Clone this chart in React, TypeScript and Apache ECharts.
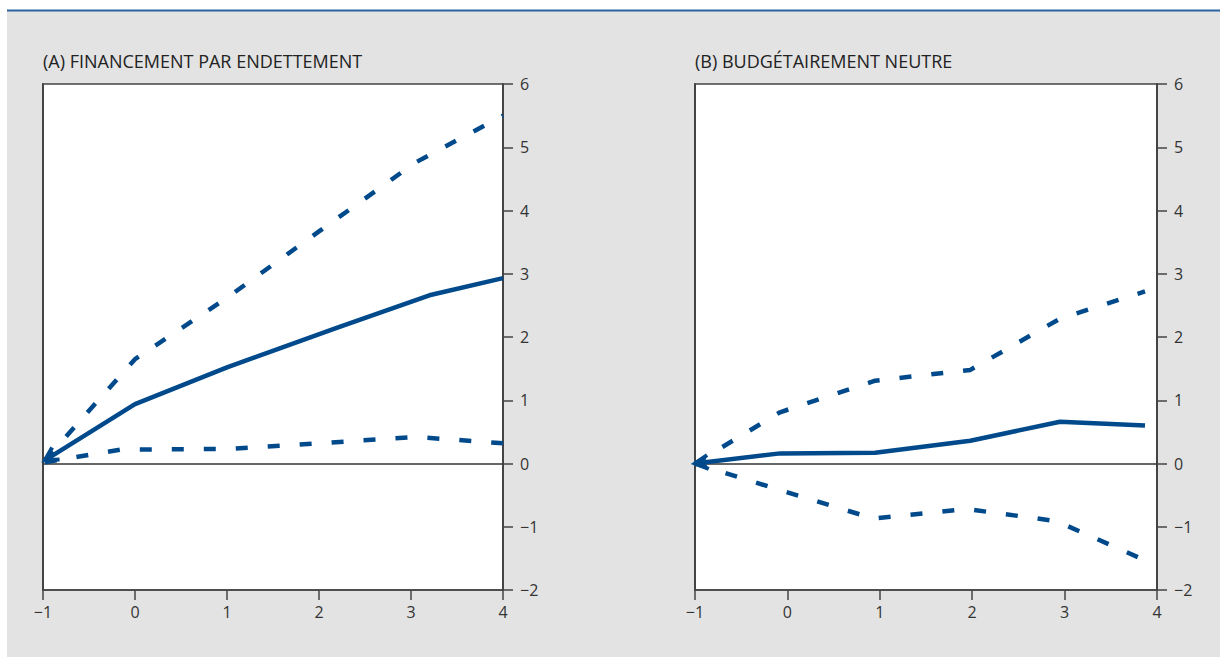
import React, { useEffect, useRef } from "react";
import * as echarts from "echarts";

const titleA = "(A) FINANCEMENT PAR ENDETTEMENT";
const titleB = "(B) BUDGÉTAIREMENT NEUTRE";

const xTicks = [-1, 0, 1, 2, 3, 4];
const yTicks = [-2, -1, 0, 1, 2, 3, 4, 5, 6];

// Panel A: debt-financed
const aCentral = [[-0.98, 0.05], [0.0, 0.94], [1, 1.52], [2.2, 2.15], [3.2, 2.66], [4, 2.93]];
const aUpper = [[-0.98, 0.05], [0.0, 1.65], [1, 2.62], [2, 3.67], [3.05, 4.76], [4, 5.5]];
const aLower = [[-0.98, 0.02], [-0.15, 0.22], [1, 0.23], [2, 0.32], [3.05, 0.42], [4, 0.32]];

// Panel B: budget-neutral
const bCentral = [[-1, 0], [-0.08, 0.16], [0.95, 0.17], [1.98, 0.36], [2.95, 0.66], [3.87, 0.6]];
const bUpper = [[-1, 0], [-0.08, 0.81], [0.95, 1.31], [1.98, 1.48], [2.95, 2.29], [3.87, 2.72]];
const bLower = [[-1, 0], [-0.08, -0.42], [0.93, -0.87], [1.94, -0.72], [2.91, -0.91], [3.87, -1.53]];

const BLUE = "#004a8c";
const AXIS = "#444444";
const FONT = "'Open Sans', 'Noto Sans', sans-serif";

const fmt = (v: number) => (v < 0 ? "\u2212" + Math.abs(v) : String(v));

export default function App() {
  const ref = useRef<HTMLDivElement>(null);
  useEffect(() => {
    if (!ref.current) return;
    const chart = echarts.init(ref.current, undefined, { renderer: "svg" });

    const grids = [
      { left: 43, top: 84, width: 460, height: 506 },
      { left: 695, top: 84, width: 462, height: 506 },
    ];

    const xAxis = grids.map((_, i) => ({
      type: "value",
      gridIndex: i,
      min: xTicks[0],
      max: xTicks[xTicks.length - 1],
      interval: 1,
      position: "bottom",
      axisLine: { show: true, onZero: false, lineStyle: { color: AXIS, width: 1.5 } },
      axisTick: { show: true, length: 10, lineStyle: { color: AXIS, width: 1.5 } },
      axisLabel: { margin: 14, color: "#333", fontSize: 16, fontFamily: FONT, formatter: fmt },
      splitLine: { show: false },
    }));

    const yAxis: any[] = [];
    grids.forEach((_, i) => {
      yAxis.push({
        type: "value",
        gridIndex: i,
        min: yTicks[0],
        max: yTicks[yTicks.length - 1],
        interval: 1,
        position: "right",
        axisLine: { show: true, onZero: false, lineStyle: { color: AXIS, width: 2 } },
        axisTick: { show: true, length: 10, lineStyle: { color: AXIS, width: 1.5 } },
        axisLabel: { margin: 17, color: "#333", fontSize: 16, fontFamily: FONT, formatter: fmt },
        splitLine: { show: false },
      });
    });
    grids.forEach((_, i) => {
      yAxis.push({
        type: "value",
        gridIndex: i,
        min: yTicks[0],
        max: yTicks[yTicks.length - 1],
        interval: 1,
        position: "left",
        axisLine: { show: true, onZero: false, lineStyle: { color: AXIS, width: 2 } },
        axisTick: { show: false },
        axisLabel: { show: false },
        splitLine: { show: false },
      });
    });

    const mkLine = (data: number[][], gi: number, dashed: boolean, zero: boolean) => ({
      type: "line",
      xAxisIndex: gi,
      yAxisIndex: gi,
      data,
      symbol: "none",
      z: 3,
      lineStyle: {
        color: BLUE,
        width: 4.5,
        type: dashed ? [12, 20] : "solid",
        cap: "butt",
      },
      markLine: zero
        ? {
            silent: true,
            symbol: "none",
            label: { show: false },
            lineStyle: { color: "#333", width: 1.5, type: "solid" },
            data: [{ yAxis: 0 }],
            z: 2,
          }
        : undefined,
    });

    const series = [
      mkLine(aCentral, 0, false, true),
      mkLine(aUpper, 0, true, false),
      mkLine(aLower, 0, true, false),
      mkLine(bCentral, 1, false, true),
      mkLine(bUpper, 1, true, false),
      mkLine(bLower, 1, true, false),
    ];

    const baseGraphic: any[] = [
      { type: "rect", z: -10, silent: true, shape: { x: 7, y: 11, width: 1213, height: 646 }, style: { fill: "#e3e3e3" } },
      { type: "rect", z: -9, silent: true, shape: { x: 7, y: 9.5, width: 1213, height: 2 }, style: { fill: "#2b64a0" } },
      { type: "text", x: 43, y: 61, style: { text: titleA, fill: "#222", fontSize: 18, fontFamily: FONT, textVerticalAlign: "middle" } },
      { type: "text", x: 695, y: 61, style: { text: titleB, fill: "#222", fontSize: 18, fontFamily: FONT, textVerticalAlign: "middle" } },
    ];

    chart.setOption({
      animation: false,
      grid: grids.map((g) => ({
        ...g,
        show: true,
        backgroundColor: "#ffffff",
        borderColor: AXIS,
        borderWidth: 1.5,
      })),
      xAxis,
      yAxis,
      series,
      graphic: baseGraphic,
    });

    // open arrowheads at the start of the central lines
    const arrows: any[] = [];
    [[aCentral, 0], [bCentral, 1]].forEach(([d, gi]: any) => {
      const p0 = chart.convertToPixel({ gridIndex: gi }, d[0]) as number[];
      const p1 = chart.convertToPixel({ gridIndex: gi }, d[1]) as number[];
      const dx = p1[0] - p0[0];
      const dy = p1[1] - p0[1];
      const L = Math.hypot(dx, dy);
      const ux = dx / L, uy = dy / L;
      const px = -uy, py = ux;
      const len = 13, half = 7;
      arrows.push({
        type: "polyline",
        z: 100,
        silent: true,
        shape: {
          points: [
            [p0[0] + ux * len + px * half, p0[1] + uy * len + py * half],
            [p0[0], p0[1]],
            [p0[0] + ux * len - px * half, p0[1] + uy * len - py * half],
          ],
        },
        style: { stroke: BLUE, lineWidth: 4, fill: "none", lineJoin: "miter" },
      });
    });
    chart.setOption({ graphic: [...baseGraphic, ...arrows] });

    return () => chart.dispose();
  }, []);

  return (
    <div
      ref={ref}
      style={{ position: "absolute", left: 0, top: 0, width: 1220, height: 657, background: "#fff" }}
    />
  );
}
